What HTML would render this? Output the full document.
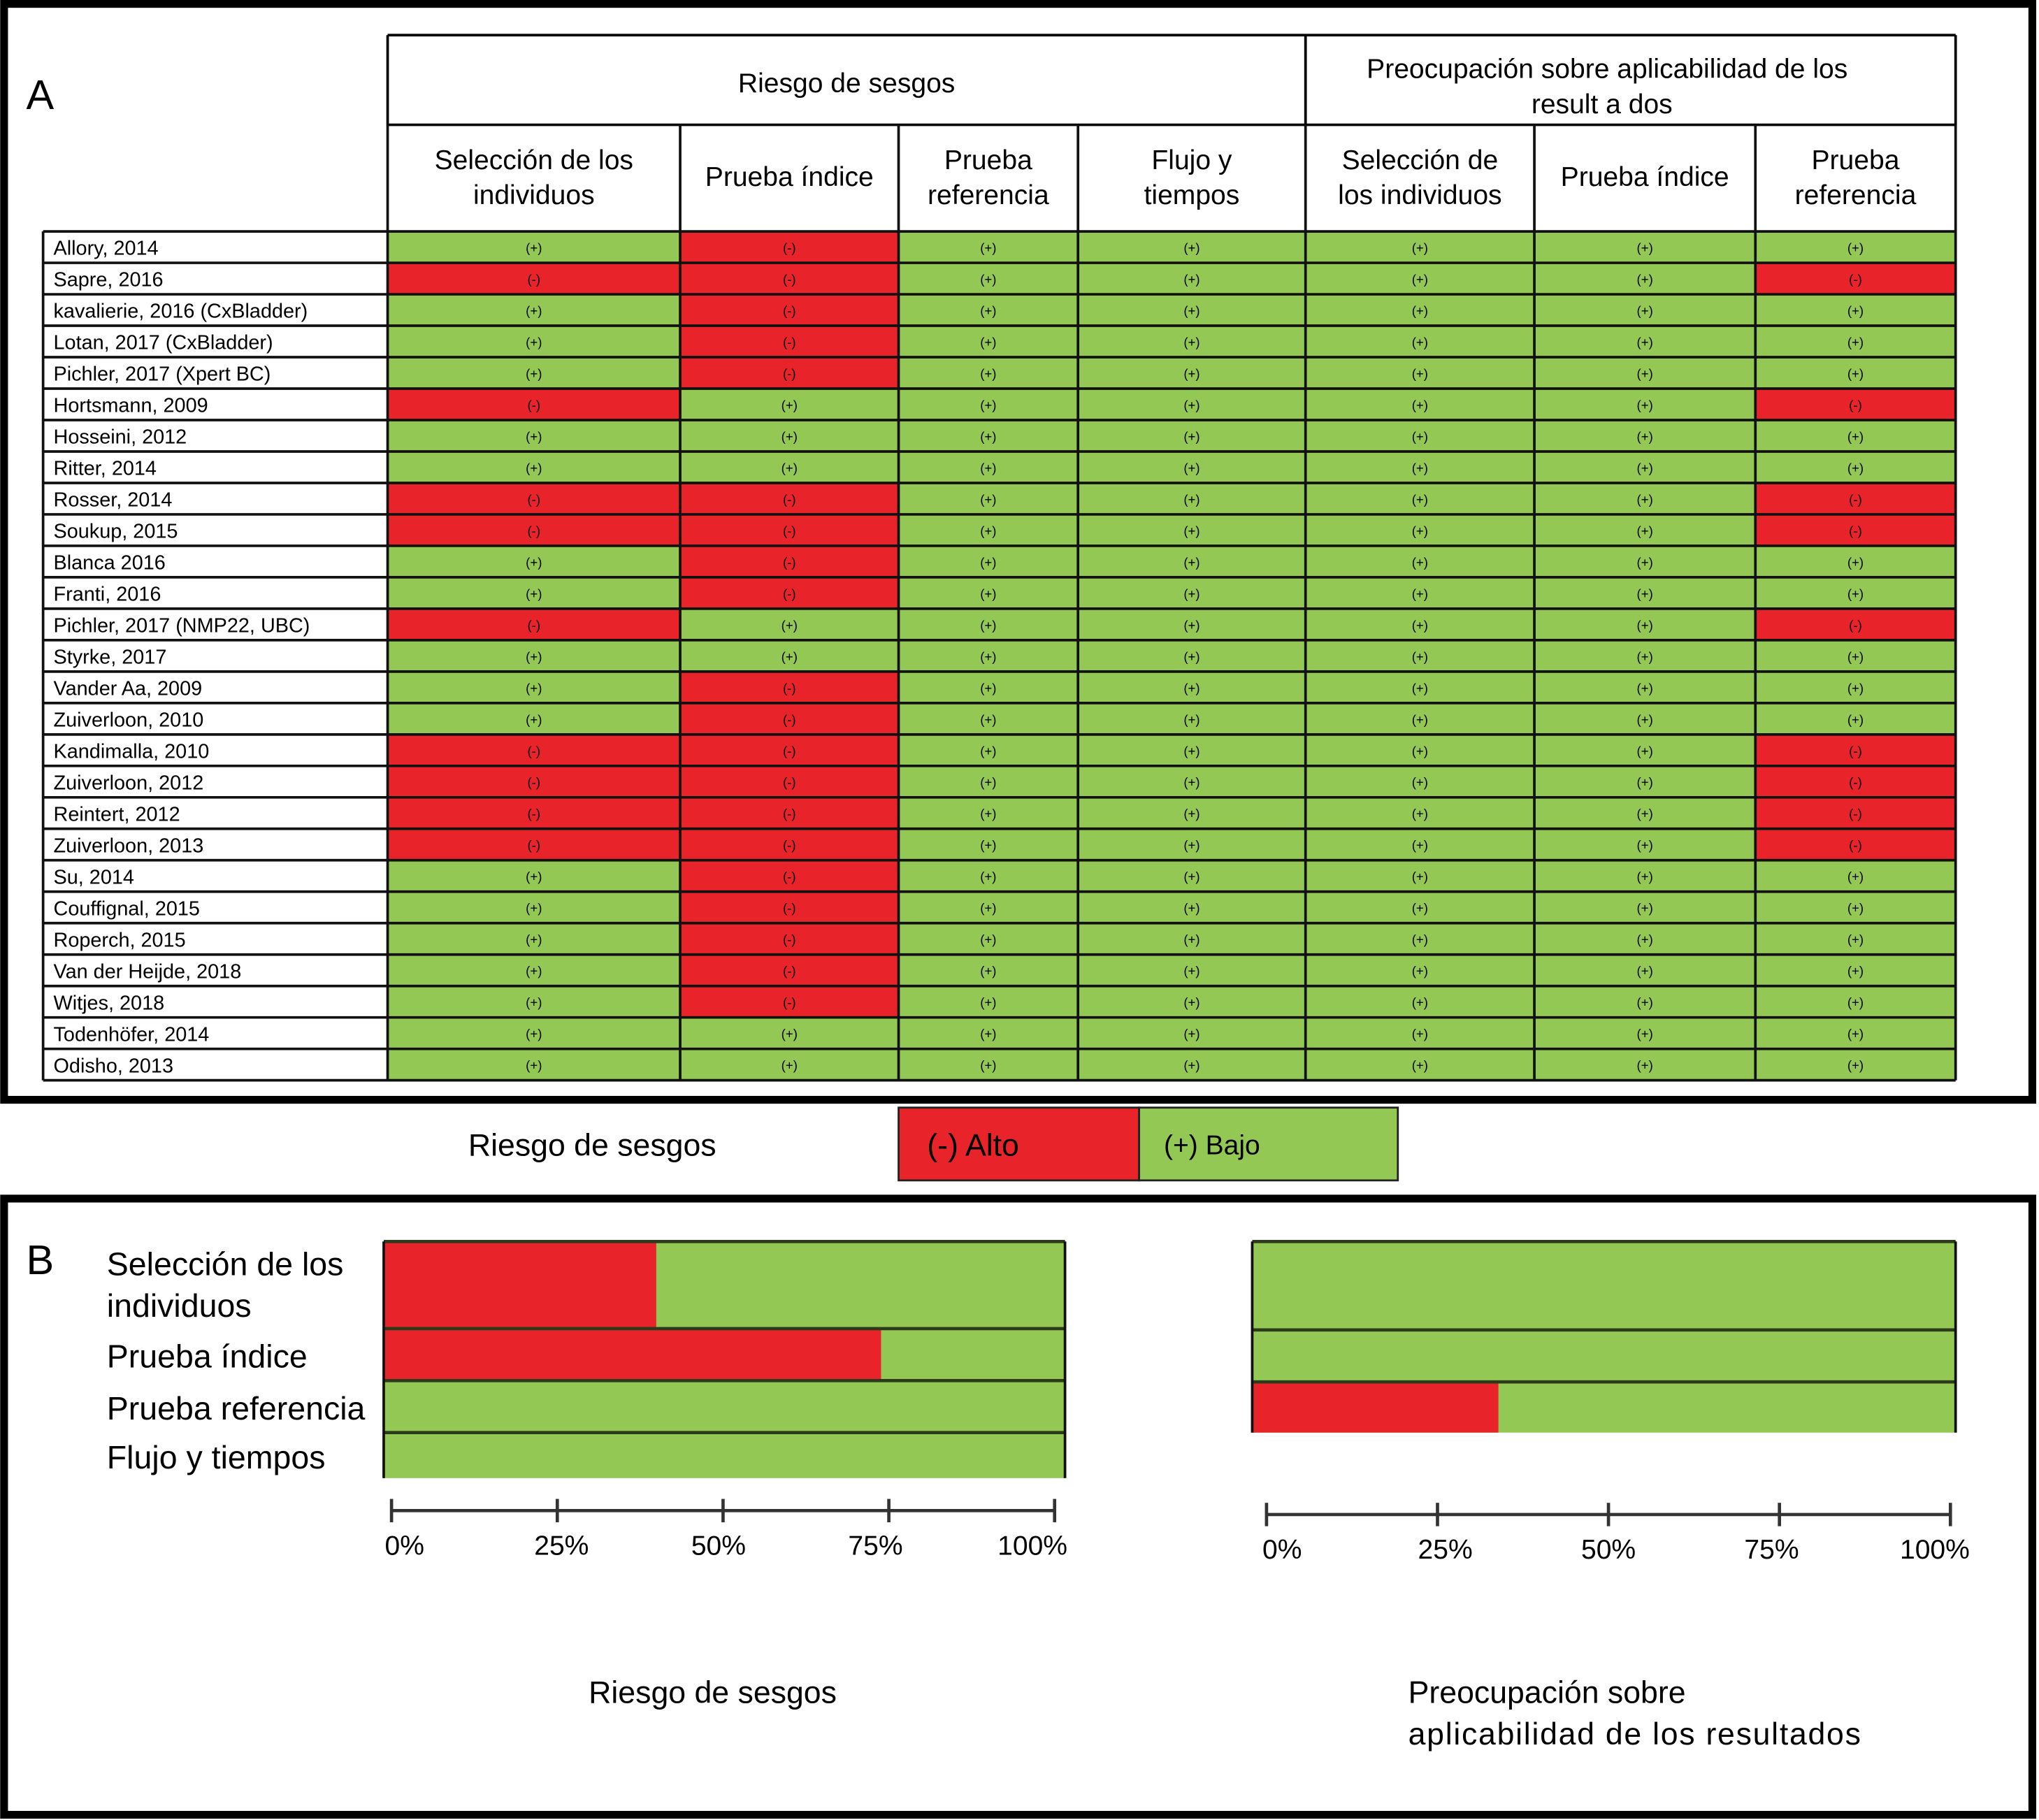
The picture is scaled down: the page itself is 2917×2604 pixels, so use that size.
<!DOCTYPE html>
<html><head><meta charset="utf-8"><style>
html,body{margin:0;padding:0;background:#fff}
svg{display:block}
text{font-family:"Liberation Sans",sans-serif;fill:#000}
</style></head><body>
<svg id="fig" width="2917" height="2604" viewBox="0 0 1568 1400" xmlns="http://www.w3.org/2000/svg">
<g id="panelA">
<rect x="3" y="3" width="1560" height="843" fill="none" stroke="#000" stroke-width="6"/>
<text x="20" y="84" font-size="32">A</text>
<g id="header"></g>
<g id="rows"></g>
</g>
<g>
<text x="360" y="889" font-size="24">Riesgo de sesgos</text>
<rect x="691" y="852" width="185" height="56" fill="#e8232a" stroke="#222" stroke-width="1.5"/>
<rect x="876" y="852" width="199" height="56" fill="#92c853" stroke="#222" stroke-width="1.5"/>
<text x="713" y="889" font-size="24">(-) Alto</text>
<text x="895" y="888" font-size="21">(+) Bajo</text>
</g>
<g id="panelB">
<rect x="3" y="922" width="1560" height="474" fill="none" stroke="#000" stroke-width="6"/>
<text x="20" y="980" font-size="32">B</text>
<g id="barsL"></g>
<g id="barsR"></g>
<text x="548" y="1310" font-size="24" text-anchor="middle">Riesgo de sesgos</text>
<text font-size="24"><tspan x="1083" y="1310">Preocupación sobre</tspan><tspan x="1083" y="1342" textLength="348">aplicabilidad de los resultados</tspan></text>
</g>
</svg>
<script>
const studies=["Allory, 2014","Sapre, 2016","kavalierie, 2016 (CxBladder)","Lotan, 2017 (CxBladder)","Pichler, 2017 (Xpert BC)","Hortsmann, 2009","Hosseini, 2012","Ritter, 2014","Rosser, 2014","Soukup, 2015","Blanca 2016","Franti, 2016","Pichler, 2017 (NMP22, UBC)","Styrke, 2017","Vander Aa, 2009","Zuiverloon, 2010","Kandimalla, 2010","Zuiverloon, 2012","Reintert, 2012","Zuiverloon, 2013","Su, 2014","Couffignal, 2015","Roperch, 2015","Van der Heijde, 2018","Witjes, 2018","Todenhöfer, 2014","Odisho, 2013"];
const ratings=["grggggg","rrggggr","grggggg","grggggg","grggggg","rgggggr","ggggggg","ggggggg","rrggggr","rrggggr","grggggg","grggggg","rgggggr","ggggggg","grggggg","grggggg","rrggggr","rrggggr","rrggggr","rrggggr","grggggg","grggggg","grggggg","grggggg","grggggg","ggggggg","ggggggg"];
const colHeaders=[["Selección de los","individuos"],["Prueba índice"],["Prueba","referencia"],["Flujo y","tiempos"],["Selección de","los individuos"],["Prueba índice"],["Prueba","referencia"]];
const biasCats=["Selección de los individuos","Prueba índice","Prueba referencia","Flujo y tiempos"];
const biasHigh=[40,73,0,0];
const applCats=["Selección de los individuos","Prueba índice","Prueba referencia"];
const applHigh=[0,0,35];
const ticks=[0,25,50,75,100];
const tickLabels=["0%","25%","50%","75%","100%"];

const NS="http://www.w3.org/2000/svg";
function mk(tag,attrs,parent,txt){const e=document.createElementNS(NS,tag);for(const k in attrs)e.setAttribute(k,attrs[k]);if(txt!==undefined)e.textContent=txt;parent.appendChild(e);return e;}
const G="#92c853",R="#e8232a";
const colX=[298,523,691,829,1004,1180,1350,1504];
const top0=178,rowH=(831-178)/studies.length;
const hdr=document.getElementById('header');
let l;
l=mk('line',{x1:298,y1:27,x2:1504,y2:27,stroke:'#000','stroke-width':2},hdr);

l=mk('line',{x1:298,y1:96,x2:1504,y2:96,stroke:'#000','stroke-width':2},hdr);

[298,1004,1504].forEach(x=>{l=mk('line',{x1:x,y1:27,x2:x,y2:96,stroke:'#000','stroke-width':2},hdr);
});
let t=mk('text',{x:651,y:71,'font-size':21,'text-anchor':'middle'},hdr,"Riesgo de sesgos");

t=mk('text',{'font-size':21,'text-anchor':'middle'},hdr);

mk('tspan',{x:1236,y:60},t,"Preocupación sobre aplicabilidad de los");
mk('tspan',{x:1232,y:87},t,"result a dos");
colHeaders.forEach((h,i)=>{
  const cx=(colX[i]+colX[i+1])/2;
  const tt=mk('text',{'font-size':21,'text-anchor':'middle'},hdr);
  
  if(h.length===1) mk('tspan',{x:cx,y:143},tt,h[0]);
  else {mk('tspan',{x:cx,y:130},tt,h[0]);mk('tspan',{x:cx,y:157},tt,h[1]);}
});
const rows=document.getElementById('rows');
studies.forEach((s,r)=>{
  const y=top0+r*rowH;
  for(let c=0;c<7;c++){
    const v=ratings[r][c];
    const rc=mk('rect',{x:colX[c],y:y,width:colX[c+1]-colX[c],height:rowH,fill:v==='r'?R:G},rows);
    
    const ct=mk('text',{x:(colX[c]+colX[c+1])/2,y:y+rowH/2+4,'font-size':10,'text-anchor':'middle',fill:'#333'},rows,v==='r'?'(-)':'(+)');
    
  }
  const lt=mk('text',{x:41,y:y+rowH/2+6,'font-size':15.5},rows,s);
  
});
for(let r=0;r<=studies.length;r++){
  const y=top0+r*rowH;
  const hl=mk('line',{x1:33,y1:y,x2:1504,y2:y,stroke:'#111','stroke-width':2},rows);
  
}
l=mk('line',{x1:33,y1:top0,x2:33,y2:831,stroke:'#111','stroke-width':2},rows);

colX.forEach(x=>{l=mk('line',{x1:x,y1:96,x2:x,y2:831,stroke:'#111','stroke-width':2},rows);
});

function chart(g,x0,x1,bands,vals,ax0,ax1,axY,labY,lab0,lab1,labels){
  const sx=v=>x0+(x1-x0)*v/100;
  const ax=v=>ax0+(ax1-ax0)*v/100;
  const lx=v=>lab0+(lab1-lab0)*v/100;
  vals.forEach((v,i)=>{
    const [y0,y1]=bands[i];
    let b=mk('rect',{x:x0,y:y0,width:x1-x0,height:y1-y0,fill:G},g);
    
    b=mk('rect',{x:x0,y:y0,width:sx(v)-x0,height:y1-y0,fill:R},g);
    
    const ln=mk('line',{x1:x0,y1:y0,x2:x1,y2:y0,stroke:'#2a3a1a','stroke-width':2.5},g);
    
  });
  const yb=bands[bands.length-1][1];
  [x0,x1].forEach(x=>{const e=mk('line',{x1:x,y1:bands[0][0],x2:x,y2:yb,stroke:'#111','stroke-width':2},g);
  });
  if(labels){labels.forEach((lb,i)=>{
    const [y0,y1]=bands[i];
    const tx=mk('text',{'font-size':25},g);
    
    if(i===0){mk('tspan',{x:82,y:981},tx,"Selección de los");mk('tspan',{x:82,y:1013},tx,"individuos");}
    else mk('tspan',{x:82,y:(y0+y1)/2+10},tx,lb);
  });}
  const a=mk('line',{x1:ax0,y1:axY,x2:ax1,y2:axY,stroke:'#333','stroke-width':2.5},g);
  
  ticks.forEach((tk,i)=>{
    const tl=mk('line',{x1:ax(tk),y1:axY-9,x2:ax(tk),y2:axY+9,stroke:'#333','stroke-width':2.5},g);
    
    const tt=mk('text',{x:lx(tk),y:labY,'font-size':21,'text-anchor':'middle'},g,tickLabels[i]);
    
  });
}
chart(document.getElementById('barsL'),295,819,[[955,1022],[1022,1062],[1062,1102],[1102,1137]],biasHigh,301,811,1162,1196,311,794,biasCats);
chart(document.getElementById('barsR'),963,1504,[[955,1023],[1023,1063],[1063,1102]],applHigh,974,1500,1165,1199,986,1488,null);
</script>
</body></html>
